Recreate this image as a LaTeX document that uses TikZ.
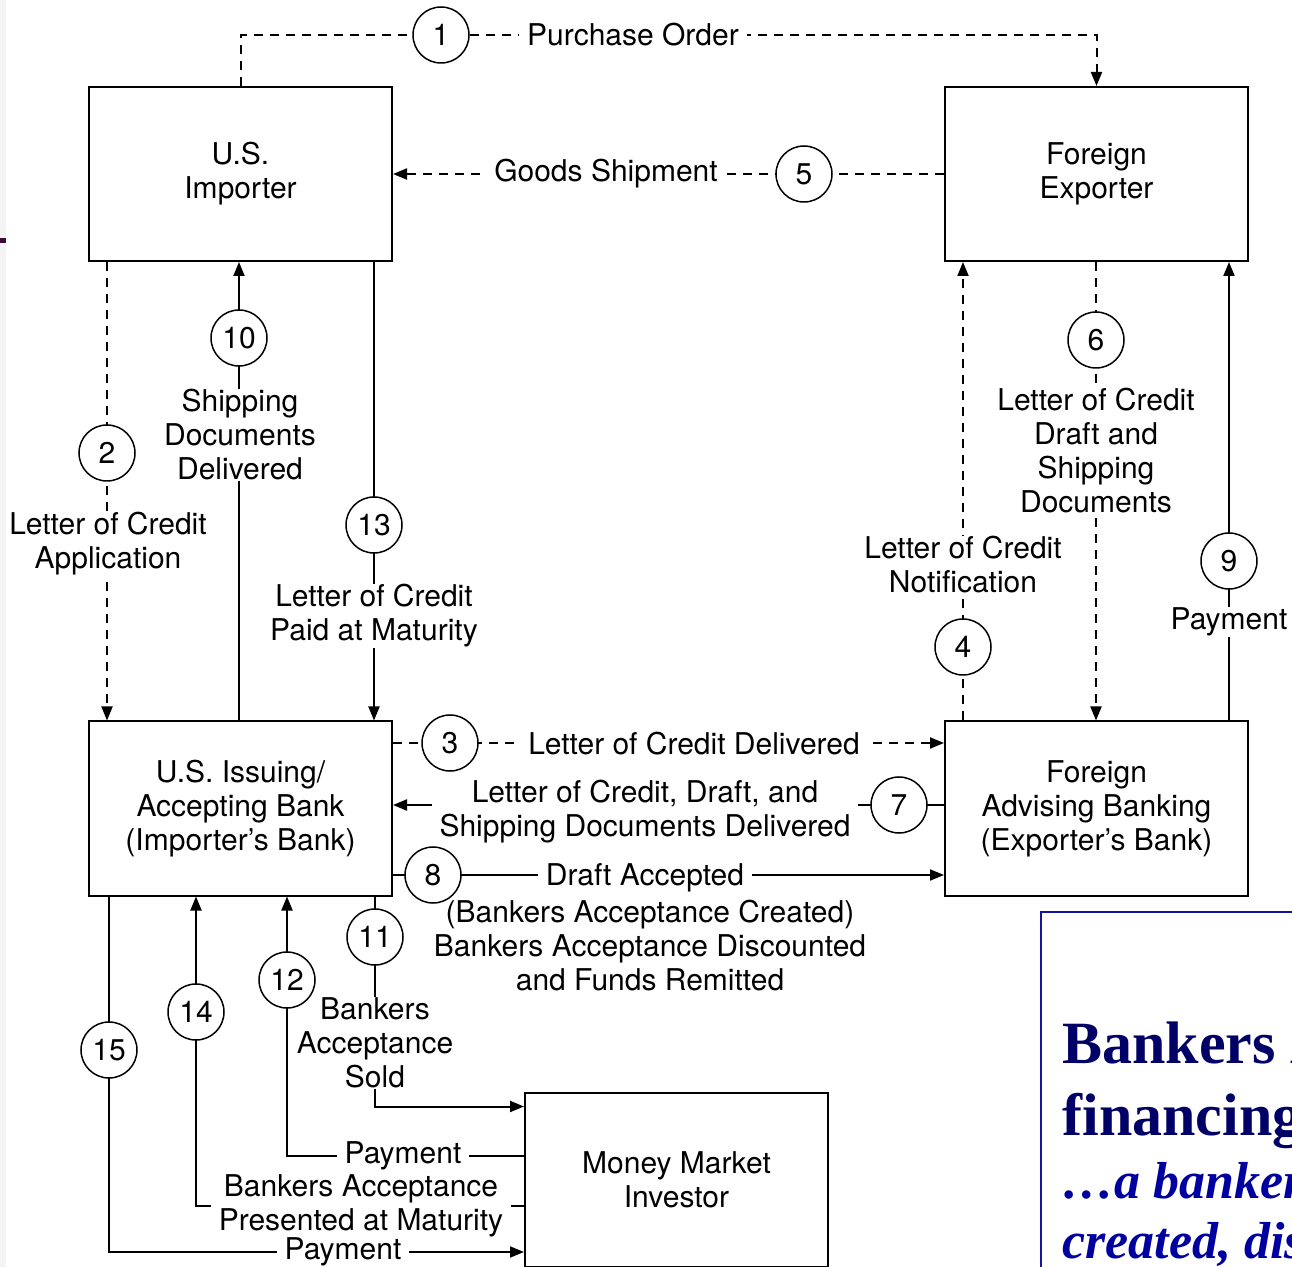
\documentclass[tikz,border=0pt]{standalone}
\usepackage{fontspec}
\setmainfont{TeX Gyre Heros}
\newfontfamily\headfont{Liberation Serif}
\usetikzlibrary{arrows.meta,backgrounds}

\definecolor{headnavy}{RGB}{0,0,102}
\definecolor{subblue}{RGB}{0,0,160}
\definecolor{frameblue}{RGB}{20,20,160}
\definecolor{edgegray}{RGB}{244,244,244}
\definecolor{edgemark}{RGB}{60,10,60}

\tikzset{
  party/.style={draw, line width=1pt, minimum width=151.5pt, minimum height=87pt, align=center, inner sep=0pt},
  stepnum/.style={draw, circle, line width=0.75pt, minimum size=28pt, inner sep=0pt, fill=white},
  flowtext/.style={fill=white, align=center, inner xsep=4pt, inner ysep=0.5pt},
  flow/.style={line width=1pt, -{Triangle[length=7pt,width=5.5pt]}},
  dflow/.style={flow, dash pattern=on 4.5pt off 3.5pt},
}

\begin{document}
\begin{tikzpicture}[x=0.5pt,y=0.5pt,yscale=-1,font=\fontsize{15}{17}\selectfont]
		\useasboundingbox (0,0) rectangle (1292,1267);
		\clip (0,0) rectangle (1292,1267);

		% The five parties
		\node[party] (imp) at (240.5,174) {U.S.\\Importer};
		\node[party] (exp) at (1096.5,174) {Foreign\\Exporter};
		\node[party] (iss) at (240.5,808.5) {U.S. Issuing/\\Accepting Bank\\(Importer's Bank)};
		\node[party] (adv) at (1096.5,808.5) {Foreign\\Advising Banking\\(Exporter's Bank)};
		\node[party] (inv) at (676.5,1179.5) {Money Market\\Investor};

		% Flow labels
		\node[flowtext] (t1) at (633,35) {Purchase Order};
		\node[flowtext] (t5) at (606,174) {Goods Shipment};
		\node[flowtext] (t2) at (108,544) {Letter of Credit\\Application};
		\node[flowtext] (t10) at (240,435) {Shipping\\Documents\\Delivered};
		\node[flowtext] (t13) at (374,616) {Letter of Credit\\Paid at Maturity};
		\node[flowtext] (t6) at (1096,451) {Letter of Credit\\Draft and\\Shipping\\Documents};
		\node[flowtext] (t4) at (963,565) {Letter of Credit\\Notification};
		\node[flowtext] (t9) at (1229,622) {Payment};
		\node[flowtext] (t3) at (694,744) {Letter of Credit Delivered};
		\node[flowtext] (t7) at (645,812) {Letter of Credit, Draft, and\\Shipping Documents Delivered};
		\node[flowtext] (t8) at (645,878) {Draft Accepted};
		\node[align=center] (t8b) at (650,946) {(Bankers Acceptance Created)\\Bankers Acceptance Discounted\\and Funds Remitted};
		\node[flowtext] (t11) at (375,1043) {Bankers\\Acceptance\\Sold};
		\node[flowtext] (t14) at (361,1206) {Bankers Acceptance\\Presented at Maturity};
		\node[flowtext] (t12) at (403,1156) {Payment};
		\node[flowtext] (t15) at (343,1252) {Payment};

		% Step numbers
		\node[stepnum] (n1) at (441,35) {1};
		\node[stepnum] (n2) at (107,453) {2};
		\node[stepnum] (n3) at (450,743) {3};
		\node[stepnum] (n4) at (963,647) {4};
		\node[stepnum] (n5) at (804,174) {5};
		\node[stepnum] (n6) at (1096,340) {6};
		\node[stepnum] (n7) at (899,805) {7};
		\node[stepnum] (n8) at (433,875) {8};
		\node[stepnum] (n9) at (1229,561) {9};
		\node[stepnum] (n10) at (239,338) {10};
		\node[stepnum] (n11) at (375,937) {11};
		\node[stepnum] (n12) at (287,980) {12};
		\node[stepnum] (n13) at (374,525) {13};
		\node[stepnum] (n14) at (196,1012) {14};
		\node[stepnum] (n15) at (109,1050) {15};

		% Connectors, drawn behind the labels
		\begin{scope}[on background layer]
			\draw[dflow] (imp.north) |- (n1) -| (exp.north);
			\draw[dflow] (exp.west |- n5) -- (imp.east |- n5);
			\draw[dflow] (imp.south -| n2) -- (iss.north -| n2);
			\draw[flow] (iss.north -| n10) -- (imp.south -| n10);
			\draw[flow] (imp.south -| n13) -- (iss.north -| n13);
			\draw[dflow] (exp.south -| n6) -- (adv.north -| n6);
			\draw[dflow] (adv.north -| n4) -- (exp.south -| n4);
			\draw[flow] (adv.north -| n9) -- (exp.south -| n9);
			\draw[dflow] (iss.east |- n3) -- (adv.west |- n3);
			\draw[flow] (adv.west |- n7) -- (iss.east |- n7);
			\draw[flow] (iss.east |- n8) -- (adv.west |- n8);
			\draw[flow] (iss.south -| n11) |- ([yshift=7.5pt]inv.north west);
			\draw[flow] (inv.west |- t12) -| (iss.south -| n12);
			\draw[flow] (inv.west |- t14) -| (iss.south -| n14);
			\draw[flow] (iss.south -| n15) |- (inv.west |- t15);
		\end{scope}

		% Title panel, cut off at the right edge
		\draw[frameblue, line width=1pt] (1041,1290) rectangle (1320,912);
		\node[anchor=base west, inner sep=0pt, text=headnavy, font=\headfont\bfseries\fontsize{30}{30}\selectfont] (head1) at (1062,1063) {Bankers A};
		\node[anchor=base west, inner sep=0pt, text=headnavy, font=\headfont\bfseries\fontsize{30}{30}\selectfont] (head2) at (1062,1135) {financing};
		\node[anchor=base west, inner sep=0pt, text=subblue, font=\headfont\bfseries\itshape\fontsize{26}{26}\selectfont] (head3) at (1062,1198) {…a banker};
		\node[anchor=base west, inner sep=0pt, text=subblue, font=\headfont\bfseries\itshape\fontsize{26}{26}\selectfont] (head4) at (1062,1258) {created, dis};

		% Page edge on the left
		\fill[edgegray] (0,0) rectangle (6,1267);
		\fill[edgemark] (0,238) rectangle (6,243);
	\end{tikzpicture}
\end{document}
